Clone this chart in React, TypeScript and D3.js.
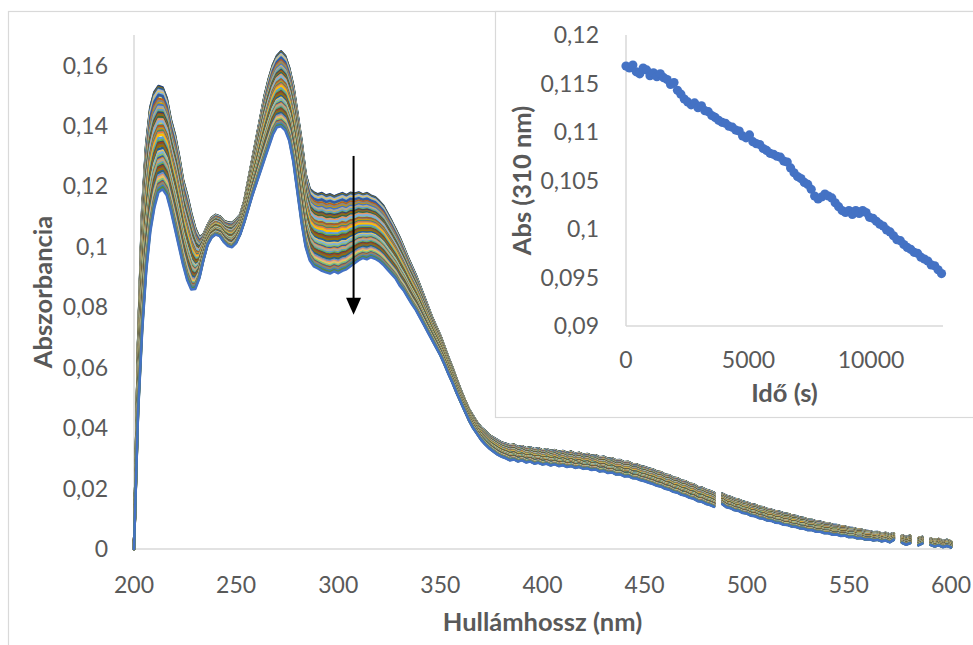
import React from 'react';
import * as d3 from 'd3';

// ---------- data ----------
const WAVELENGTHS: number[] = d3.range(200, 601, 2);

// first recorded spectrum (t = 0 s), 2 nm grid 200..600, null = missing point
const SPECTRUM_START: (number | null)[] = [
  0.000, 0.068, 0.112, 0.134, 0.146, 0.151, 0.153, 0.1525, 0.149, 0.142,
  0.137, 0.130, 0.122, 0.117, 0.111, 0.106, 0.103, 0.104, 0.107, 0.1095,
  0.1105, 0.110, 0.1085, 0.108, 0.1078, 0.109, 0.1105, 0.115, 0.122, 0.129,
  0.136, 0.143, 0.150, 0.1555, 0.160, 0.163, 0.1645, 0.163, 0.159, 0.153,
  0.144, 0.135, 0.124, 0.119, 0.1178, 0.1172, 0.1176, 0.1168, 0.1172, 0.1165,
  0.1171, 0.1176, 0.1169, 0.1177, 0.1174, 0.1178, 0.1172, 0.1176, 0.1168, 0.1163,
  0.1150, 0.1135, 0.1110, 0.1085, 0.1058, 0.1030, 0.0998, 0.0965, 0.0935, 0.0905,
  0.0870, 0.0835, 0.0800, 0.0765, 0.0735, 0.0705, 0.0668, 0.0632, 0.0598, 0.0560,
  0.0525, 0.0492, 0.0462, 0.0440, 0.0418, 0.0402, 0.0390, 0.0376, 0.0368, 0.0360,
  0.0352, 0.0348, 0.0343, 0.0345, 0.0337, 0.0340, 0.0333, 0.0336, 0.0330, 0.0333,
  0.0326, 0.0330, 0.0324, 0.0327, 0.0321, 0.0324, 0.0318, 0.0322, 0.0315, 0.0318,
  0.0312, 0.0314, 0.0308, 0.0310, 0.0303, 0.0305, 0.0298, 0.0300, 0.0293, 0.0294,
  0.0287, 0.0288, 0.0281, 0.0280, 0.0274, 0.0271, 0.0266, 0.0263, 0.0256, 0.0254,
  0.0246, 0.0244, 0.0236, 0.0234, 0.0226, 0.0224, 0.0216, 0.0214, 0.0205, 0.0203,
  0.0196, 0.0192, 0.0186, null, 0.0183, 0.0176, 0.0172, 0.0166, 0.0163, 0.0157,
  0.0154, 0.0148, 0.0146, 0.0140, 0.0138, 0.0132, 0.0130, 0.0125, 0.0123, 0.0118,
  0.0116, 0.0111, 0.0109, 0.0104, 0.0102, 0.0097, 0.0096, 0.0091, 0.0090, 0.0086,
  0.0085, 0.0080, 0.0079, 0.0075, 0.0074, 0.0070, 0.0069, 0.0065, 0.0064, 0.0060,
  0.0059, 0.0055, 0.0056, 0.0051, 0.0053, 0.0048, 0.0052, null, 0.0045, 0.0040,
  0.0044, null, 0.0036, 0.0040, null, 0.0034, 0.0030, 0.0033, 0.0027, 0.0030,
  0.0025,
];

// last recorded spectrum (t = 12880 s)
const SPECTRUM_END: (number | null)[] = [
  0.000, 0.045, 0.072, 0.092, 0.105, 0.113, 0.118, 0.119, 0.117, 0.112,
  0.106, 0.100, 0.094, 0.089, 0.0858, 0.0860, 0.0895, 0.0955, 0.1005, 0.1030,
  0.1040, 0.1035, 0.1015, 0.1002, 0.0998, 0.1012, 0.1040, 0.1080, 0.1125, 0.1170,
  0.1210, 0.1250, 0.1290, 0.1330, 0.1370, 0.1395, 0.1398, 0.1385, 0.1350, 0.1280,
  0.1180, 0.1080, 0.1000, 0.0955, 0.0935, 0.0928, 0.0920, 0.0915, 0.0911, 0.0918,
  0.0912, 0.0920, 0.0925, 0.0935, 0.0945, 0.0955, 0.0962, 0.0958, 0.0965, 0.0960,
  0.0952, 0.0940, 0.0925, 0.0910, 0.0895, 0.0872, 0.0855, 0.0832, 0.0810, 0.0790,
  0.0765, 0.0740, 0.0715, 0.0690, 0.0665, 0.0640, 0.0610, 0.0578, 0.0548, 0.0515,
  0.0485, 0.0455, 0.0425, 0.0400, 0.0380, 0.0360, 0.0345, 0.0332, 0.0322, 0.0312,
  0.0305, 0.0300, 0.0293, 0.0296, 0.0289, 0.0293, 0.0286, 0.0289, 0.0282, 0.0285,
  0.0279, 0.0282, 0.0276, 0.0280, 0.0274, 0.0277, 0.0271, 0.0274, 0.0268, 0.0271,
  0.0265, 0.0267, 0.0261, 0.0263, 0.0256, 0.0258, 0.0251, 0.0253, 0.0246, 0.0247,
  0.0240, 0.0241, 0.0234, 0.0233, 0.0227, 0.0224, 0.0219, 0.0215, 0.0209, 0.0206,
  0.0199, 0.0196, 0.0189, 0.0186, 0.0179, 0.0176, 0.0169, 0.0166, 0.0158, 0.0156,
  0.0149, 0.0145, 0.0139, null, 0.0148, 0.0138, 0.0135, 0.0128, 0.0126, 0.0119,
  0.0117, 0.0110, 0.0108, 0.0102, 0.0100, 0.0094, 0.0093, 0.0087, 0.0086, 0.0080,
  0.0079, 0.0074, 0.0073, 0.0068, 0.0067, 0.0062, 0.0062, 0.0057, 0.0057, 0.0052,
  0.0052, 0.0047, 0.0048, 0.0043, 0.0044, 0.0039, 0.0040, 0.0035, 0.0036, 0.0031,
  0.0032, 0.0028, 0.0030, 0.0025, 0.0028, 0.0022, 0.0030, null, 0.0020, 0.0014,
  0.0019, null, 0.0012, 0.0018, null, 0.0013, 0.0008, 0.0012, 0.0006, 0.0010,
  0.0005,
];

// inset: absorbance at 310 nm vs time
const KINETIC_TIMES: number[] = d3.range(0, 12881, 140);
const ABS_310: number[] = [
  0.1168, 0.1166, 0.1169, 0.1162, 0.1160, 0.1166, 0.1164, 0.1158, 0.1161, 0.1157,
  0.1160, 0.1156, 0.1154, 0.1149, 0.1151, 0.1143, 0.1139, 0.1134, 0.1131, 0.1128,
  0.1130, 0.1125, 0.1127, 0.1122, 0.1121, 0.1117, 0.1115, 0.1112, 0.1110, 0.1109,
  0.1106, 0.1105, 0.1102, 0.1101, 0.1096, 0.1094, 0.1097, 0.1090, 0.1088, 0.1087,
  0.1083, 0.1081, 0.1078, 0.1077, 0.1075, 0.1074, 0.1070, 0.1069, 0.1063, 0.1058,
  0.1054, 0.1052, 0.1048, 0.1046, 0.1041, 0.1034, 0.1031, 0.1033, 0.1036, 0.1034,
  0.1032, 0.1027, 0.1023, 0.1019, 0.1017, 0.1019, 0.1015, 0.1019, 0.1016, 0.1019,
  0.1017, 0.1012, 0.1011, 0.1008, 0.1005, 0.1003, 0.0999, 0.0997, 0.0993, 0.0989,
  0.0988, 0.0984, 0.0981, 0.0979, 0.0976, 0.0975, 0.0971, 0.0969, 0.0967, 0.0963,
  0.0962, 0.0958, 0.0954,
];

const X_TICKS = [200, 250, 300, 350, 400, 450, 500, 550, 600];
const Y_TICKS = [0, 0.02, 0.04, 0.06, 0.08, 0.1, 0.12, 0.14, 0.16];
const INSET_X_TICKS = [0, 5000, 10000];
const INSET_Y_TICKS = [0.09, 0.095, 0.1, 0.105, 0.11, 0.115, 0.12];

// arrow annotation (data units)
const ARROW = { wavelength: 307.5, from: 0.130, to: 0.0775 };

const PALETTE = [
  '#4472C4', '#ED7D31', '#A5A5A5', '#FFC000', '#5B9BD5', '#70AD47',
  '#264478', '#9E480E', '#636363', '#997300', '#255E91', '#43682B',
  '#698ED0', '#F1975A', '#B7B7B7', '#FFCD33', '#7CAFDD', '#8CC168',
  '#335AA1', '#BC5D15', '#848484', '#CC9A00', '#3C7DC4', '#5A8A39',
];

const FONT = "Lato, 'Open Sans', sans-serif";
const TEXT = '#595959';
const AXIS = '#D9D9D9';
const TICK_SIZE = 23;
const TITLE_SIZE = 25.5;

const comma = (s: string) => s.replace('.', ',');

export default function App() {
  // main chart scales
  const x = d3.scaleLinear().domain([200, 600]).range([134, 951]);
  const y = d3.scaleLinear().domain([0, 0.17]).range([549, 35]);

  // inset scales
  const ix = d3.scaleLinear().domain([0, 12940]).range([626, 943]);
  const iy = d3.scaleLinear().domain([0.09, 0.12]).range([326, 35]);

  const a0 = ABS_310[0];
  const aN = ABS_310[ABS_310.length - 1];
  const N = ABS_310.length;

  // every recorded spectrum, placed between first and last by its 310 nm kinetics
  const spectra = ABS_310.map((a) => {
    const f = (a - aN) / (a0 - aN);
    return WAVELENGTHS.map((w, i) => {
      const s = SPECTRUM_START[i];
      const e = SPECTRUM_END[i];
      if (s == null || e == null) return [w, null] as [number, number | null];
      return [w, e + (s - e) * f] as [number, number | null];
    });
  });

  const line = d3
    .line<[number, number | null]>()
    .defined((d) => d[1] != null)
    .x((d) => x(d[0]))
    .y((d) => y(d[1] as number));

  const offset = (PALETTE.length - ((N - 1) % PALETTE.length)) % PALETTE.length;

  const fmtMain = d3.format('.2~f');
  const fmtInset = d3.format('.3~f');

  return (
    <svg
      width={973}
      height={645}
      style={{ position: 'absolute', left: 0, top: 0, background: '#fff' }}
      fontFamily={FONT}
    >
      <rect x={0} y={0} width={973} height={645} fill="#fff" />
      {/* outer chart border */}
      <rect x={8.5} y={11.5} width={1000} height={700} fill="#fff" stroke={AXIS} strokeWidth={1.2} />

      {/* main axes */}
      <line x1={x(200)} x2={x(200)} y1={y(0.17)} y2={y(0)} stroke={AXIS} strokeWidth={1.5} />
      <line x1={x(200)} x2={x(600)} y1={y(0)} y2={y(0)} stroke={AXIS} strokeWidth={1.5} />

      {/* spectra */}
      <g fill="none" strokeWidth={2.5} strokeLinejoin="round" strokeLinecap="round">
        {spectra.map((s, k) => (
          <path key={k} d={line(s) || ''} stroke={PALETTE[(k + offset) % PALETTE.length]} />
        ))}
      </g>

      {/* tick labels */}
      <g fill={TEXT} fontSize={TICK_SIZE}>
        {Y_TICKS.map((t) => (
          <text key={t} x={108} y={y(t)} dy="0.36em" textAnchor="end">
            {comma(fmtMain(t))}
          </text>
        ))}
        {X_TICKS.map((t) => (
          <text key={t} x={x(t)} y={593} textAnchor="middle">
            {t}
          </text>
        ))}
      </g>
      <text x={(x(200) + x(600)) / 2} y={631} textAnchor="middle" fontSize={TITLE_SIZE} fontWeight="bold" fill={TEXT}>
        Hullámhossz (nm)
      </text>
      <text
        transform={`translate(43,${(y(0) + y(0.17)) / 2}) rotate(-90)`}
        textAnchor="middle"
        dy="0.35em"
        fontSize={TITLE_SIZE}
        fontWeight="bold"
        fill={TEXT}
      >
        Abszorbancia
      </text>

      {/* arrow */}
      <line
        x1={x(ARROW.wavelength)}
        x2={x(ARROW.wavelength)}
        y1={y(ARROW.from)}
        y2={y(ARROW.to) - 12}
        stroke="#000"
        strokeWidth={2}
      />
      <path
        d={`M${x(ARROW.wavelength) - 7.5},${y(ARROW.to) - 17} L${x(ARROW.wavelength) + 7.5},${y(ARROW.to) - 17} L${x(
          ARROW.wavelength
        )},${y(ARROW.to)} Z`}
        fill="#000"
      />

      {/* inset */}
      <rect x={495.5} y={11.5} width={600} height={406} fill="#fff" stroke={AXIS} strokeWidth={1.2} />
      <line x1={ix(0)} x2={ix(0)} y1={iy(0.12)} y2={iy(0.09)} stroke={AXIS} strokeWidth={1.5} />
      <line x1={ix(0)} x2={ix(12940)} y1={iy(0.09)} y2={iy(0.09)} stroke={AXIS} strokeWidth={1.5} />
      <g fill="#4472C4">
        {KINETIC_TIMES.map((t, i) => (
          <circle key={t} cx={ix(t)} cy={iy(ABS_310[i])} r={4.6} />
        ))}
      </g>
      <g fill={TEXT} fontSize={TICK_SIZE}>
        {INSET_Y_TICKS.map((t) => (
          <text key={t} x={599} y={iy(t)} dy="0.36em" textAnchor="end">
            {comma(fmtInset(t))}
          </text>
        ))}
        {INSET_X_TICKS.map((t) => (
          <text key={t} x={ix(t)} y={368} textAnchor="middle">
            {t}
          </text>
        ))}
      </g>
      <text x={(ix(0) + ix(12940)) / 2} y={402} textAnchor="middle" fontSize={TITLE_SIZE} fontWeight="bold" fill={TEXT}>
        Idő (s)
      </text>
      <text
        transform={`translate(522,${(iy(0.09) + iy(0.12)) / 2}) rotate(-90)`}
        textAnchor="middle"
        dy="0.35em"
        fontSize={TITLE_SIZE}
        fontWeight="bold"
        fill={TEXT}
      >
        Abs (310 nm)
      </text>
    </svg>
  );
}
